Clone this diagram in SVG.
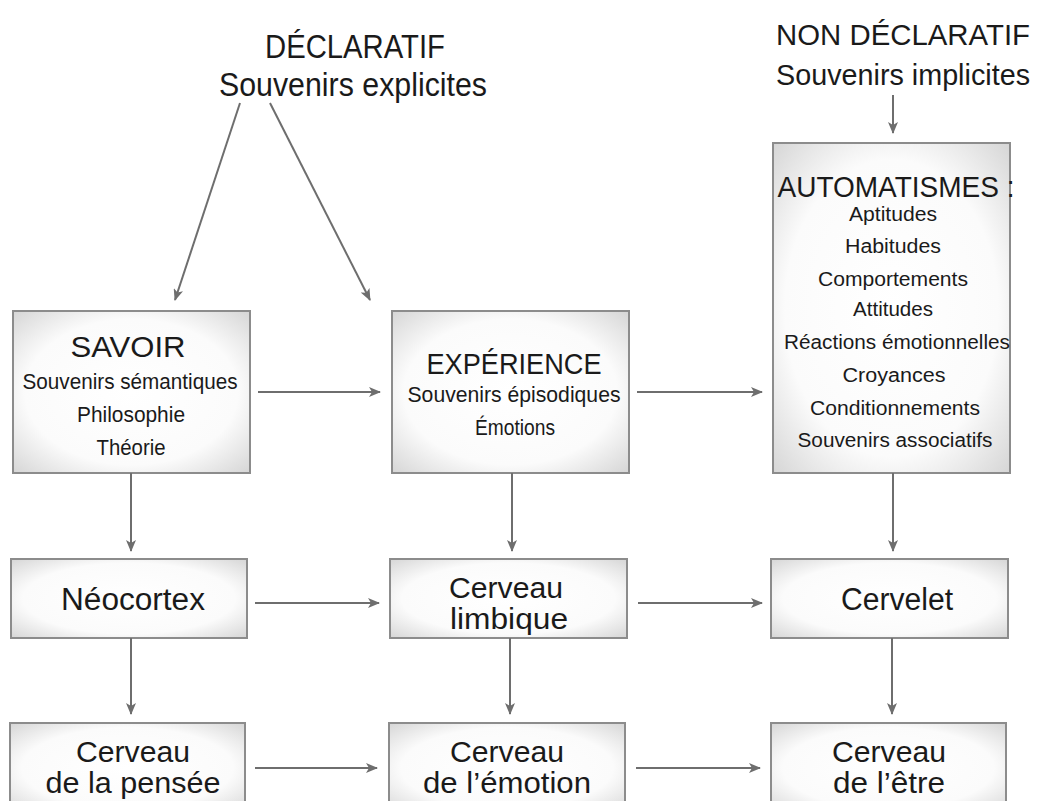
<svg xmlns="http://www.w3.org/2000/svg" width="1044" height="801" viewBox="0 0 1044 801">
<style>
text{font-family:"Liberation Sans","DejaVu Sans",sans-serif;fill:#1a1a1a;text-anchor:middle}
.box{fill:url(#g);stroke:#8c8c8c;stroke-width:2}
.hd{font-size:34px}
.hn{font-size:30px}
.tt{font-size:30px}
.sm{font-size:22px}
.it{font-size:20px}
.md{font-size:31px}
.bt{font-size:29px}
.c line{stroke:#6e6e6e;stroke-width:2;marker-end:url(#a)}
</style>
<defs>
<radialGradient id="g" cx="0.5" cy="0.5" r="0.75">
<stop offset="0" stop-color="#ffffff"/>
<stop offset="0.6" stop-color="#fbfbfb"/>
<stop offset="1" stop-color="#cfcfcf"/>
</radialGradient>
<marker id="a" viewBox="0 0 12 10" refX="11" refY="5" markerWidth="12" markerHeight="10" markerUnits="userSpaceOnUse" orient="auto">
<path d="M0,0 L12,5 L0,10 L3,5 z" fill="#6e6e6e"/>
</marker>
</defs>
<rect width="1044" height="801" fill="#fff"/>

<g id="declaratif">
<text class="hd" x="355" y="58" textLength="180" lengthAdjust="spacingAndGlyphs">DÉCLARATIF</text>
<text class="hd" x="353" y="96" textLength="268" lengthAdjust="spacingAndGlyphs">Souvenirs explicites</text>
</g>
<g id="non-declaratif">
<text class="hn" x="903" y="45" textLength="254" lengthAdjust="spacingAndGlyphs">NON DÉCLARATIF</text>
<text class="hn" x="903" y="85" textLength="254" lengthAdjust="spacingAndGlyphs">Souvenirs implicites</text>
</g>

<g id="savoir">
<rect class="box" x="13" y="311" width="237" height="162"/>
<text class="tt" x="128" y="357" textLength="115" lengthAdjust="spacingAndGlyphs">SAVOIR</text>
<text class="sm" x="130" y="389" textLength="215" lengthAdjust="spacingAndGlyphs">Souvenirs sémantiques</text>
<text class="sm" x="131" y="422" textLength="108" lengthAdjust="spacingAndGlyphs">Philosophie</text>
<text class="sm" x="131" y="455" textLength="69" lengthAdjust="spacingAndGlyphs">Théorie</text>
</g>

<g id="experience">
<rect class="box" x="392" y="311" width="237" height="162"/>
<text class="tt" x="514" y="374" textLength="175" lengthAdjust="spacingAndGlyphs">EXPÉRIENCE</text>
<text class="sm" x="514" y="402" textLength="213" lengthAdjust="spacingAndGlyphs">Souvenirs épisodiques</text>
<text class="sm" x="515" y="435" textLength="80" lengthAdjust="spacingAndGlyphs">Émotions</text>
</g>

<g id="automatismes">
<rect class="box" x="773" y="143" width="237" height="330"/>
<text class="tt" x="896" y="197" textLength="237" lengthAdjust="spacingAndGlyphs">AUTOMATISMES :</text>
<text class="it" x="893" y="221" textLength="88" lengthAdjust="spacingAndGlyphs">Aptitudes</text>
<text class="it" x="893" y="253" textLength="96" lengthAdjust="spacingAndGlyphs">Habitudes</text>
<text class="it" x="893" y="286" textLength="150" lengthAdjust="spacingAndGlyphs">Comportements</text>
<text class="it" x="893" y="316" textLength="80" lengthAdjust="spacingAndGlyphs">Attitudes</text>
<text class="it" x="897" y="349" textLength="226" lengthAdjust="spacingAndGlyphs">Réactions émotionnelles</text>
<text class="it" x="894" y="382" textLength="103" lengthAdjust="spacingAndGlyphs">Croyances</text>
<text class="it" x="895" y="415" textLength="170" lengthAdjust="spacingAndGlyphs">Conditionnements</text>
<text class="it" x="895" y="447" textLength="195" lengthAdjust="spacingAndGlyphs">Souvenirs associatifs</text>
</g>

<g id="neocortex">
<rect class="box" x="11" y="559" width="236" height="79"/>
<text class="md" x="133" y="610" textLength="144" lengthAdjust="spacingAndGlyphs">Néocortex</text>
</g>
<g id="limbique">
<rect class="box" x="390" y="559" width="237" height="79"/>
<text class="bt" x="506" y="598" textLength="114" lengthAdjust="spacingAndGlyphs">Cerveau</text>
<text class="bt" x="509" y="629" textLength="118" lengthAdjust="spacingAndGlyphs">limbique</text>
</g>
<g id="cervelet">
<rect class="box" x="771" y="559" width="237" height="79"/>
<text class="md" x="897" y="610" textLength="112" lengthAdjust="spacingAndGlyphs">Cervelet</text>
</g>

<g id="pensee">
<rect class="box" x="10" y="723" width="235" height="90"/>
<text class="bt" x="133" y="762" textLength="114" lengthAdjust="spacingAndGlyphs">Cerveau</text>
<text class="bt" x="133" y="793" textLength="175" lengthAdjust="spacingAndGlyphs">de la pensée</text>
</g>
<g id="emotion">
<rect class="box" x="389" y="723" width="236" height="90"/>
<text class="bt" x="507" y="762" textLength="114" lengthAdjust="spacingAndGlyphs">Cerveau</text>
<text class="bt" x="507" y="793" textLength="168" lengthAdjust="spacingAndGlyphs">de l’émotion</text>
</g>
<g id="etre">
<rect class="box" x="771" y="723" width="235" height="90"/>
<text class="bt" x="889" y="762" textLength="114" lengthAdjust="spacingAndGlyphs">Cerveau</text>
<text class="bt" x="889" y="793" textLength="112" lengthAdjust="spacingAndGlyphs">de l’être</text>
</g>

<g id="connectors" class="c">
<line x1="240" y1="103" x2="175" y2="300"/>
<line x1="270" y1="103" x2="370" y2="300"/>
<line x1="893" y1="95" x2="893" y2="133"/>
<line x1="258" y1="392" x2="380" y2="392"/>
<line x1="637" y1="392" x2="762" y2="392"/>
<line x1="131" y1="473" x2="131" y2="551"/>
<line x1="512" y1="473" x2="512" y2="551"/>
<line x1="893" y1="473" x2="893" y2="551"/>
<line x1="255" y1="603" x2="379" y2="603"/>
<line x1="638" y1="603" x2="762" y2="603"/>
<line x1="131" y1="638" x2="131" y2="714"/>
<line x1="510" y1="638" x2="510" y2="714"/>
<line x1="892" y1="638" x2="892" y2="714"/>
<line x1="255" y1="768" x2="377" y2="768"/>
<line x1="636" y1="768" x2="760" y2="768"/>
</g>
</svg>
